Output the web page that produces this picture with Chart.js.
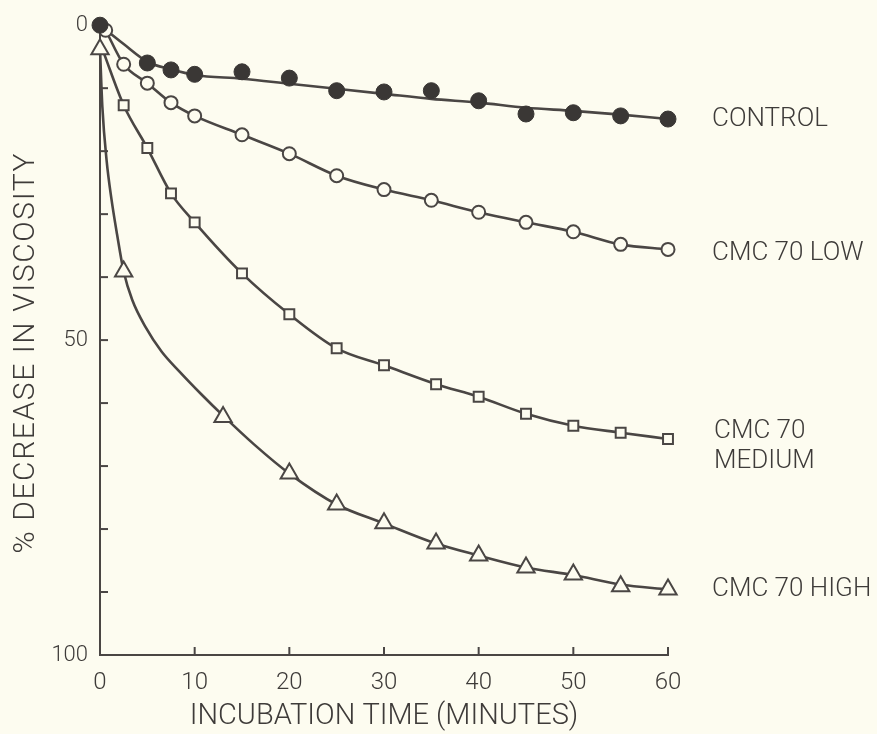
<!DOCTYPE html>
<html>
<head>
<meta charset="utf-8">
<script src="https://cdn.jsdelivr.net/npm/chart.js@4.4.1/dist/chart.umd.min.js"></script>
<style>
  html, body { margin: 0; padding: 0; background: #fdfcf0; }
  #wrap { width: 877px; height: 734px; position: relative; }
</style>
</head>
<body>
<div id="wrap"><canvas id="c"></canvas></div>
<script>
// ---------- data ----------
const xTickValues = [0, 10, 20, 30, 40, 50, 60];
const yTickLabels = { 0: '0', 50: '50', 100: '100' };
const xTitle = 'INCUBATION TIME (MINUTES)';
const yTitle = '% DECREASE IN VISCOSITY';
const seriesNames = ['CONTROL', 'CMC 70 LOW', ['CMC 70', 'MEDIUM'], 'CMC 70 HIGH'];

// CONTROL (filled circles) and its drawn smooth curve
const controlT = [0, 5, 7.5, 10, 15, 20, 25, 30, 35, 40, 45, 50, 55, 60];
const controlV = [0, 6.0, 7.1, 7.8, 7.4, 8.4, 10.4, 10.6, 10.4, 12.0, 14.1, 13.9, 14.4, 14.9];
const controlCurveT = [0, 2.5, 5, 7.5, 10, 15, 20, 25, 30, 35, 40, 45, 50, 55, 60];
const controlCurveV = [0, 3.0, 5.8, 7.0, 7.9, 8.5, 9.3, 10.1, 10.9, 11.7, 12.3, 13.1, 13.6, 14.2, 14.9];

// CMC 70 LOW (open circles)
const lowT = [0.6, 2.5, 5, 7.5, 10, 15, 20, 25, 30, 35, 40, 45, 50, 55, 60];
const lowV = [0.8, 6.2, 9.2, 12.3, 14.4, 17.4, 20.4, 23.9, 26.1, 27.8, 29.7, 31.3, 32.8, 34.8, 35.6];
const lowCurveT = lowT;
const lowCurveV = lowV;

// CMC 70 MEDIUM (open squares)
const mediumT = [2.5, 5, 7.5, 10, 15, 20, 25, 30, 35.5, 40, 45, 50, 55, 60];
const mediumV = [12.7, 19.5, 26.7, 31.3, 39.4, 45.9, 51.3, 54.0, 57.0, 59.0, 61.7, 63.6, 64.7, 65.7];
const mediumCurveT = [0.3, 2.5, 5, 7.5, 10, 15, 20, 25, 30, 35.5, 40, 45, 50, 55, 60];
const mediumCurveV = [4.0, 12.7, 19.5, 26.7, 31.3, 39.4, 45.9, 51.3, 54.0, 57.0, 59.0, 61.7, 63.6, 64.7, 65.7];

// CMC 70 HIGH (open triangles)
const highT = [0, 2.5, 13, 20, 25, 30, 35.5, 40, 45, 50, 55, 60];
const highV = [3.8, 39.1, 62.2, 71.2, 76.1, 79.1, 82.3, 84.2, 86.1, 87.2, 89.1, 89.6];
const highCurveT = [0, 0.25, 0.7, 1.2, 1.8, 2.5, 3.4, 4.8, 6.5, 8.4, 10.7, 13, 16.3, 20, 25, 30, 35.5, 40, 45, 50, 55, 60];
const highCurveV = [3.8, 13.0, 21.5, 27.5, 33.2, 39.1, 43.6, 47.9, 51.8, 55.0, 58.6, 62.0, 66.6, 71.2, 76.1, 79.1, 82.3, 84.2, 86.1, 87.3, 88.8, 89.6];

// ---------- styling ----------
const BG = '#fdfcf0';
const INK = '#4a4644';
const TEXT = '#3e3b39';
const FONT = 'Roboto';

const pts = (t, v) => t.map((x, i) => ({ x: x, y: v[i] }));

function curve(t, v) {
  return {
    data: pts(t, v), borderColor: INK, borderWidth: 2.6, pointRadius: 0,
    cubicInterpolationMode: 'monotone', fill: false, clip: false, order: 2
  };
}
function marks(t, v, style, radius, filled) {
  return {
    data: pts(t, v), showLine: false, pointStyle: style, pointRadius: radius,
    pointBackgroundColor: filled ? '#3a3735' : BG, pointBorderColor: filled ? '#3a3735' : INK,
    pointBorderWidth: filled ? 1 : 2, clip: false, order: 1
  };
}

const lastVals = [controlCurveV[controlCurveV.length - 1], lowV[lowV.length - 1],
                  mediumV[mediumV.length - 1], highV[highV.length - 1]];

const decorations = {
  id: 'decorations',
  beforeDraw(chart) {
    const ctx = chart.ctx;
    ctx.save();
    ctx.fillStyle = BG;
    ctx.fillRect(0, 0, chart.width, chart.height);
    ctx.restore();
  },
  afterDraw(chart) {
    const ctx = chart.ctx;
    const xs = chart.scales.x, ys = chart.scales.y;
    const area = chart.chartArea;
    ctx.save();
    // inward tick marks
    ctx.strokeStyle = INK;
    ctx.lineWidth = 2;
    ys.ticks.forEach(tk => {
      if (tk.value <= 0 || tk.value >= 100) return;
      const py = ys.getPixelForValue(tk.value);
      ctx.beginPath(); ctx.moveTo(area.left, py); ctx.lineTo(area.left + 8, py); ctx.stroke();
    });
    xs.ticks.forEach(tk => {
      if (tk.value <= 0) return;
      const px = xs.getPixelForValue(tk.value);
      ctx.beginPath(); ctx.moveTo(px, area.bottom); ctx.lineTo(px, area.bottom - 8); ctx.stroke();
    });
    // y axis title (rotated, spaced letters)
    ctx.fillStyle = TEXT;
    ctx.save();
    ctx.translate(26, ys.getPixelForValue(52));
    ctx.rotate(-Math.PI / 2);
    ctx.font = '300 30px ' + FONT;
    if ('letterSpacing' in ctx) ctx.letterSpacing = '1.6px';
    ctx.textAlign = 'center';
    ctx.textBaseline = 'middle';
    ctx.fillText(yTitle, 0, 0);
    ctx.restore();
    // series labels at the right
    ctx.font = '300 26px ' + FONT;
    ctx.textBaseline = 'middle';
    ctx.textAlign = 'left';
    const lx = xs.getPixelForValue(60) + 44;
    seriesNames.forEach((name, i) => {
      const py = ys.getPixelForValue(lastVals[i]);
      if (Array.isArray(name)) {
        ctx.fillText(name[0], lx + 2, py - 7);
        ctx.fillText(name[1], lx + 2, py + 23);
      } else {
        ctx.fillText(name, lx, py + (i === 1 ? 4 : 0));
      }
    });
    ctx.restore();
  }
};

new Chart(document.getElementById('c'), {
  type: 'line',
  data: {
    datasets: [
      marks(controlT, controlV, 'circle', 8, true),
      marks(lowT, lowV, 'circle', 6.5, false),
      marks(mediumT, mediumV, 'rect', 7, false),
      marks(highT, highV, 'triangle', 10, false),
      curve(controlCurveT, controlCurveV),
      curve(lowCurveT, lowCurveV),
      curve(mediumCurveT, mediumCurveV),
      curve(highCurveT, highCurveV)
    ]
  },
  options: {
    responsive: true,
    maintainAspectRatio: false,
    animation: false,
    layout: { padding: { left: 0, right: 209, top: 23, bottom: 0 } },
    plugins: { legend: { display: false }, tooltip: { enabled: false } },
    scales: {
      x: {
        type: 'linear', min: 0, max: 60,
        grid: { display: true, drawOnChartArea: false, drawTicks: false },
        border: { display: true, color: INK, width: 2 },
        afterBuildTicks: s => { s.ticks = xTickValues.map(v => ({ value: v })); },
        ticks: { stepSize: 10, padding: 14, color: TEXT, font: { family: FONT, size: 24, weight: '300' },
                 callback: v => String(v) },
        title: { display: true, text: xTitle, color: TEXT,
                 font: { family: FONT, size: 29, weight: '300' }, padding: { top: 2, bottom: 0 } },
        afterFit: s => { s.height = 79; }
      },
      y: {
        type: 'linear', min: 0, max: 100, reverse: true,
        grid: { display: true, drawOnChartArea: false, drawTicks: false },
        border: { display: true, color: INK, width: 2 },
        ticks: { stepSize: 10, autoSkip: false, padding: 12, color: TEXT,
                 font: { family: FONT, size: 22, weight: '300' },
                 callback: v => (yTickLabels[v] !== undefined ? yTickLabels[v] : '') },
        title: { display: false },
        afterFit: s => { s.width = 100; }
      }
    }
  },
  plugins: [decorations]
});
</script>
</body>
</html>
